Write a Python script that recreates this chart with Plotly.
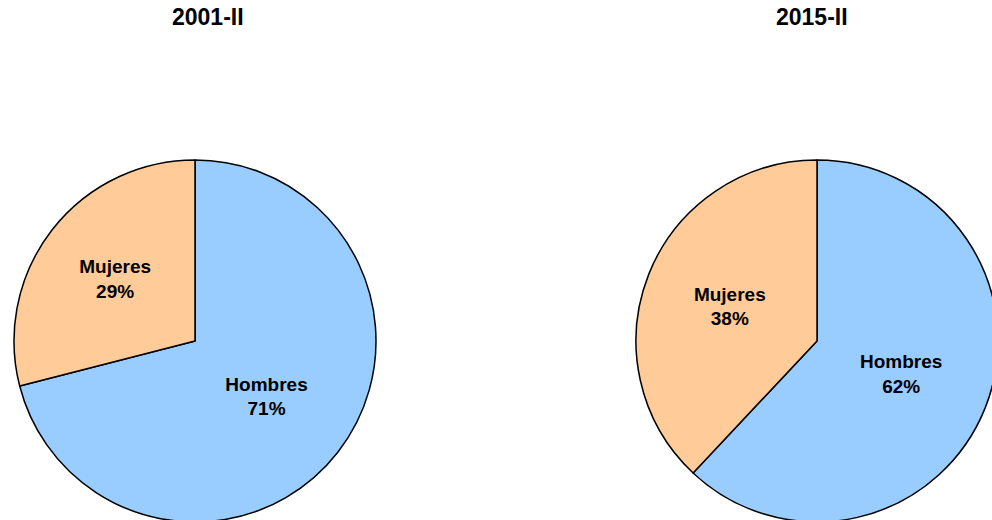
import plotly.graph_objects as go

labels = ["Hombres", "Mujeres"]
values_2001 = [71, 29]
values_2015 = [62, 38]
titles = ["2001-II", "2015-II"]
colors = ["#99CCFF", "#FFCC99"]

W, H = 1000, 525
R = 181
centers = [(195, 341), (817, 341)]

fig = go.Figure()
for vals, (cx, cy) in zip([values_2001, values_2015], centers):
    fig.add_trace(go.Pie(
        labels=labels,
        values=vals,
        sort=False,
        direction="clockwise",
        rotation=0,
        marker=dict(colors=colors, line=dict(color="#000000", width=1.5)),
        texttemplate="%{label}<br>%{percent:.0%}",
        textposition="inside",
        insidetextorientation="horizontal",
        textfont=dict(family="Liberation Sans, Arial, sans-serif", size=19, color="#000000", weight="bold"),
        hoverinfo="label+percent",
        showlegend=False,
        domain=dict(x=[(cx - R) / W, (cx + R) / W],
                    y=[(H - cy - R) / H, (H - cy + R) / H]),
    ))

title_x = [208, 812]
for t, tx in zip(titles, title_x):
    fig.add_annotation(
        text="<b>%s</b>" % t, x=tx / W, y=1 - 17 / H, xref="paper", yref="paper",
        xanchor="center", yanchor="middle", showarrow=False,
        font=dict(family="Liberation Sans, Arial, sans-serif", size=23, color="#000000"),
    )

fig.update_layout(
    width=W, height=H,
    margin=dict(l=0, r=0, t=0, b=0),
    paper_bgcolor="#FFFFFF",
    plot_bgcolor="#FFFFFF",
)

fig.write_html("out.html", config={"displayModeBar": False},
               post_script="document.body.style.margin='0';document.body.style.overflow='hidden';")
